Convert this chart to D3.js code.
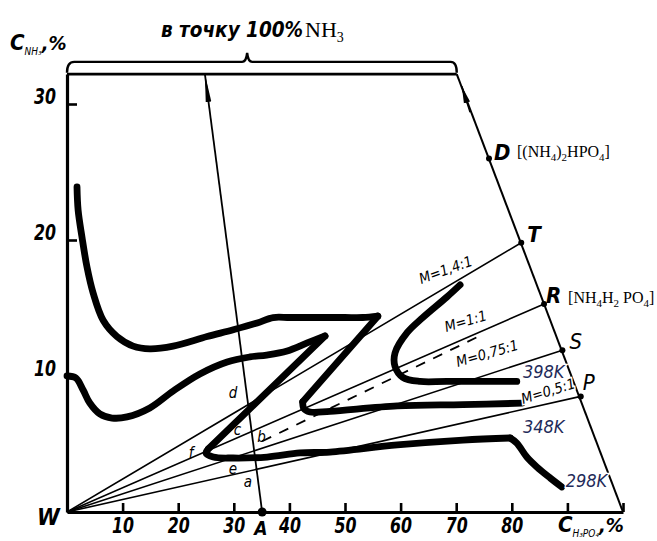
<!DOCTYPE html>
<html>
<head>
<meta charset="utf-8">
<script src="https://cdn.jsdelivr.net/npm/d3@7/dist/d3.min.js"></script>
<style>
  html, body { margin: 0; padding: 0; background: #fff; }
  svg { display: block; }
  .hand { font-family: "Liberation Sans Narrow", "DejaVu Sans Condensed", "Roboto Condensed", "Liberation Sans", sans-serif; font-style: italic; }
  .serif { font-family: "Liberation Serif", "DejaVu Serif", serif; }
</style>
</head>
<body>
<svg id="chart" width="657" height="541"></svg>
<script>
// ---------------- DATA (C_H3PO4 %, C_NH3 %) ----------------
const xTicks = [10, 20, 30, 40, 50, 60, 70, 80, 90, 100];
const xTickLabels = ["10", "20", "30", "40", "50", "60", "70", "80", "", ""];
const yTicks = [10, 20, 30];
const yTickLabels = ["10", "20", "30"];

const frameTopNH3 = 32.2;          // level of the upper border (towards 100 % NH3)
const frameCornerX = 70.1;         // upper right corner of the field
const hypoStart = [100, 0];        // 100 % H3PO4

const originW = [0, 0];
const pointA = [35.1, 0];
const pointATarget = [24.8, 32.2];
const nodes = [
  { name: "D", x: 75.9, y: 26.0 },
  { name: "T", x: 81.7, y: 19.8 },
  { name: "R", x: 85.8, y: 15.3 },
  { name: "S", x: 89.1, y: 11.9 },
  { name: "P", x: 92.4, y: 8.5 }
];
const rayTargets = ["T", "R", "S", "P"];
const dashedRay = [[35.1, 5.2], [75.0, 13.1]];
const hypoArrow = [[72.5, 29.4], [71.0, 31.3]];

const braceXs = [0, 1.3, 31.5, 32.4, 33.3, 69.0, 70.1];
const braceYs = [32.3, 33.1, 33.75];

// isotherms, split into smooth pieces at the sharp turns
const curve348 = [
  [[1.8, 23.9], [2.0, 22.2], [2.7, 20.2], [3.6, 18.0], [4.7, 16.1], [6.5, 14.1], [9.0, 12.9], [11.9, 12.2], [14.9, 12.0],
   [19.1, 12.2], [25.2, 12.9], [29.9, 13.4], [34.2, 13.9], [37.1, 14.3], [40.1, 14.3], [46.0, 14.3], [50.0, 14.3], [53.2, 14.3], [55.9, 14.4]],
  [[55.9, 14.4], [42.4, 8.1]],
  [[42.4, 8.1], [42.6, 7.6], [43.7, 7.35], [47.3, 7.4], [59.4, 7.8], [71.2, 7.9], [81.8, 8.0]]
];
const curve298 = [
  [[0, 10.0], [1.6, 9.85], [2.9, 8.97], [4.1, 8.01], [5.9, 7.21], [8.1, 6.91], [10.8, 6.99], [14.9, 7.65], [19.1, 8.9],
   [23.9, 10.15], [28.8, 11.03], [32.9, 11.4], [35.9, 11.54], [39.6, 11.84], [43.2, 12.43], [46.4, 12.94]],
  [[46.4, 12.94], [25.4, 4.63]],
  [[25.4, 4.63], [25.0, 4.34], [26.3, 4.04], [29.9, 3.97], [36.0, 4.04], [41.9, 4.34], [47.3, 4.41], [59.4, 4.93], [71.2, 5.29], [79.7, 5.44]],
  [[79.7, 5.44], [80.9, 5.07], [82.7, 4.04], [84.5, 3.31], [86.9, 2.5], [89.0, 1.84]]
];
const curve398 = [
  [[70.7, 16.7], [68.3, 15.8], [64.0, 14.3], [61.2, 13.2], [59.0, 11.7], [59.0, 10.7], [60.4, 9.9], [63.5, 9.6], [68.3, 9.6], [80.9, 9.6]]
];

const ratioLabels = [
  { text: "M=1,4:1", x: 63.7, y: 16.76, angle: -20 },
  { text: "M=1:1", x: 68.2, y: 13.24, angle: -16 },
  { text: "M=0,75:1", x: 70.3, y: 10.66, angle: -16 },
  { text: "M=0,5:1", x: 82.0, y: 7.94, angle: -17 }
];
const tempLabels = [
  { text: "398K", x: 82.0, y: 9.85 },
  { text: "348K", x: 82.0, y: 5.81 },
  { text: "298K", x: 89.7, y: 1.84 }
];
const letterLabels = [
  { text: "d", x: 29.1, y: 8.4 },
  { text: "c", x: 30.0, y: 5.66 },
  { text: "b", x: 34.2, y: 5.15 },
  { text: "f", x: 21.9, y: 3.97 },
  { text: "e", x: 29.1, y: 2.79 },
  { text: "a", x: 31.8, y: 1.84 }
];

// ---------------- DRAW ----------------
const svg = d3.select("#chart");
const x = d3.scaleLinear().domain([0, 100]).range([67, 623]);
const y = d3.scaleLinear().domain([0, frameTopNH3]).range([512, 512 - 13.6 * frameTopNH3]);
const byName = Object.fromEntries(nodes.map(n => [n.name, n]));

const defs = svg.append("defs");
defs.append("marker").attr("id", "arrBig").attr("markerUnits", "userSpaceOnUse")
  .attr("viewBox", "0 0 28 8").attr("refX", 28).attr("refY", 4)
  .attr("markerWidth", 28).attr("markerHeight", 8).attr("orient", "auto")
  .append("path").attr("d", "M0,1.2 L28,4 L0,6.8 Z").attr("fill", "#000");
defs.append("marker").attr("id", "arrSmall").attr("markerUnits", "userSpaceOnUse")
  .attr("viewBox", "0 0 17 8").attr("refX", 17).attr("refY", 4)
  .attr("markerWidth", 17).attr("markerHeight", 8).attr("orient", "auto")
  .append("path").attr("d", "M0,0.8 L17,4 L0,7.2 Z").attr("fill", "#000");

const line = d3.line().x(d => x(d[0])).y(d => y(d[1]));
const smooth = d3.line().x(d => x(d[0])).y(d => y(d[1])).curve(d3.curveCatmullRom.alpha(0.5));

// frame: top border & hypotenuse
svg.append("path").attr("d", line([[0, frameTopNH3], [frameCornerX, frameTopNH3]]))
  .attr("stroke", "#000").attr("stroke-width", 2.6).attr("fill", "none");
svg.append("path").attr("d", line([hypoStart, [frameCornerX, frameTopNH3]]))
  .attr("stroke", "#000").attr("stroke-width", 2).attr("fill", "none");
svg.append("path").attr("d", line(hypoArrow)).attr("stroke", "#000").attr("stroke-width", 1.5)
  .attr("fill", "none").attr("marker-end", "url(#arrSmall)");

// brace
{
  const [x0, x1, x2, x3, x4, x5, x6] = braceXs.map(x);
  const [yEnd, yBar, yTip] = braceYs.map(y);
  const d = `M${x0},${yEnd} Q${x0},${yBar} ${x1},${yBar} L${x2},${yBar} Q${x3 - 1},${yBar} ${x3},${yTip} Q${x3 + 1},${yBar} ${x4},${yBar} L${x5},${yBar} Q${x6},${yBar} ${x6},${yEnd}`;
  svg.append("path").attr("d", d).attr("stroke", "#000").attr("stroke-width", 2.4).attr("fill", "none");
}

// axes
const gx = svg.append("g").attr("transform", `translate(0,${y(0)})`)
  .call(d3.axisBottom(x).tickValues(xTicks).tickSizeInner(-9).tickSizeOuter(0).tickPadding(5)
    .tickFormat((d, i) => xTickLabels[i]));
gx.select(".domain").attr("stroke-width", 3.2);
gx.selectAll(".tick line").attr("stroke-width", 2.6);
gx.selectAll(".tick text").attr("class", "hand").attr("font-size", 22).attr("font-weight", "bold").attr("fill", "#000")
  .attr("textLength", d => xTickLabels[xTicks.indexOf(d)] ? 22 : null).attr("lengthAdjust", "spacingAndGlyphs");

const gy = svg.append("g").attr("transform", `translate(${x(0)},0)`)
  .call(d3.axisLeft(y).tickValues(yTicks).tickSizeInner(-10).tickSizeOuter(0).tickPadding(11)
    .tickFormat((d, i) => yTickLabels[i]));
gy.select(".domain").attr("stroke-width", 3.2);
gy.selectAll(".tick line").attr("stroke-width", 2.6);
gy.selectAll(".tick text").attr("class", "hand").attr("font-size", 22).attr("font-weight", "bold")
  .attr("dy", "-0.02em").attr("fill", "#000").attr("textLength", 22).attr("lengthAdjust", "spacingAndGlyphs");
svg.selectAll("g").attr("font-family", null);

// rays from W
svg.append("g").selectAll("path").data(rayTargets).join("path")
  .attr("d", n => line([originW, [byName[n].x, byName[n].y]]))
  .attr("stroke", "#000").attr("stroke-width", 1.6).attr("fill", "none");
svg.append("path").attr("d", line(dashedRay)).attr("stroke", "#000").attr("stroke-width", 1.8)
  .attr("stroke-dasharray", "10,9").attr("fill", "none");

// line A -> 100% NH3
svg.append("path").attr("d", line([pointA, pointATarget])).attr("stroke", "#000").attr("stroke-width", 1.8)
  .attr("fill", "none").attr("marker-end", "url(#arrBig)");

// isotherms
[curve298, curve348, curve398].forEach(c => {
  svg.append("g").selectAll("path").data(c).join("path")
    .attr("d", seg => seg.length > 2 ? smooth(seg) : line(seg))
    .attr("stroke", "#000").attr("stroke-width", 6.8).attr("fill", "none")
    .attr("stroke-linecap", "round").attr("stroke-linejoin", "round");
});

// nodes
svg.append("g").selectAll("circle").data(nodes).join("circle")
  .attr("cx", d => x(d.x)).attr("cy", d => y(d.y)).attr("r", 3).attr("fill", "#000");
svg.append("circle").attr("cx", x(pointA[0])).attr("cy", y(pointA[1])).attr("r", 4.5).attr("fill", "#000");

// ---------- texts ----------
function rich(t, parts, big, small, shift) {
  let down = false;
  parts.forEach(p => {
    const s = t.append("tspan").text(p[0]);
    if (p[1] && !down) { s.attr("dy", shift).attr("font-size", small); down = true; }
    else if (p[1]) { s.attr("font-size", small); }
    else if (!p[1] && down) { s.attr("dy", -shift).attr("font-size", big); down = false; }
    else { s.attr("font-size", big); }
  });
}

// title
svg.append("text").attr("class", "hand").attr("font-weight", "bold").attr("font-size", 20.5)
  .attr("x", 161).attr("y", 37).text("в точку 100%");
{
  const t = svg.append("text").attr("class", "serif").attr("x", 305).attr("y", 37);
  t.append("tspan").attr("font-size", 22).text("NH");
  t.append("tspan").attr("font-size", 14).attr("dy", 5).text("3");
}
// y axis title
{
  const t = svg.append("text").attr("class", "hand").attr("font-weight", "bold").attr("x", 10).attr("y", 50);
  t.append("tspan").attr("font-size", 22).text("C");
  t.append("tspan").attr("font-size", 10).attr("font-weight", "normal").attr("dy", 5).text("NH₃");
  t.append("tspan").attr("font-size", 20).attr("dy", -5).text(",%");
}
// x axis title
{
  const t = svg.append("text").attr("class", "hand").attr("font-weight", "bold").attr("x", x(88.3)).attr("y", 532);
  t.append("tspan").attr("font-size", 22).text("C");
  t.append("tspan").attr("font-size", 10).attr("font-weight", "normal").attr("dy", 5).text("H₃PO₄");
  t.append("tspan").attr("font-size", 20).attr("dy", -5).text(",%");
}
// W and A
svg.append("text").attr("class", "hand").attr("font-size", 23).attr("font-weight", "bold")
  .attr("x", x(originW[0]) - 30).attr("y", y(originW[1]) + 13).text("W");
svg.append("text").attr("class", "hand").attr("font-size", 19).attr("font-weight", "bold")
  .attr("x", x(pointA[0]) - 8).attr("y", y(pointA[1]) + 23).text("A");

// node labels
const nodeOffsets = { D: [5, 2], T: [6, -1], R: [2, -1], S: [7, -1], P: [2, -6] };
nodes.forEach(n => {
  const o = nodeOffsets[n.name];
  svg.append("text").attr("class", "hand").attr("font-size", 22)
    .attr("font-weight", n.name === "S" || n.name === "P" ? "normal" : "bold")
    .attr("x", x(n.x) + o[0]).attr("y", y(n.y) + o[1]).text(n.name);
});
{
  const t = svg.append("text").attr("class", "serif").attr("x", x(byName.D.x) + 28).attr("y", y(byName.D.y) - 1);
  rich(t, [["[", 0], ["(NH", 0], ["4", 1], [")", 0], ["2", 1], ["HPO", 0], ["4", 1], ["]", 0]], 16, 11, 4);
  const r = svg.append("text").attr("class", "serif").attr("x", x(byName.R.x) + 24).attr("y", y(byName.R.y) - 1);
  rich(r, [["[NH", 0], ["4", 1], ["H", 0], ["2", 1], [" PO", 0], ["4", 1], ["]", 0]], 16, 11, 4);
}

// ratio labels
svg.append("g").selectAll("text").data(ratioLabels).join("text")
  .attr("class", "hand").attr("font-size", 14.5)
  .attr("transform", d => `translate(${x(d.x)},${y(d.y)}) rotate(${d.angle})`)
  .attr("stroke", "#fff").attr("stroke-width", 3).attr("paint-order", "stroke")
  .text(d => d.text);

// temperature labels
svg.append("g").selectAll("text").data(tempLabels).join("text")
  .attr("class", "hand").attr("font-size", 18).attr("fill", "#1f2b5a")
  .attr("x", d => x(d.x)).attr("y", d => y(d.y))
  .attr("stroke", "#fff").attr("stroke-width", 2.5).attr("paint-order", "stroke")
  .text(d => d.text);

// letters on line A
svg.append("g").selectAll("text").data(letterLabels).join("text")
  .attr("class", "hand").attr("font-size", 15)
  .attr("x", d => x(d.x)).attr("y", d => y(d.y))
  .text(d => d.text);
</script>
</body>
</html>
